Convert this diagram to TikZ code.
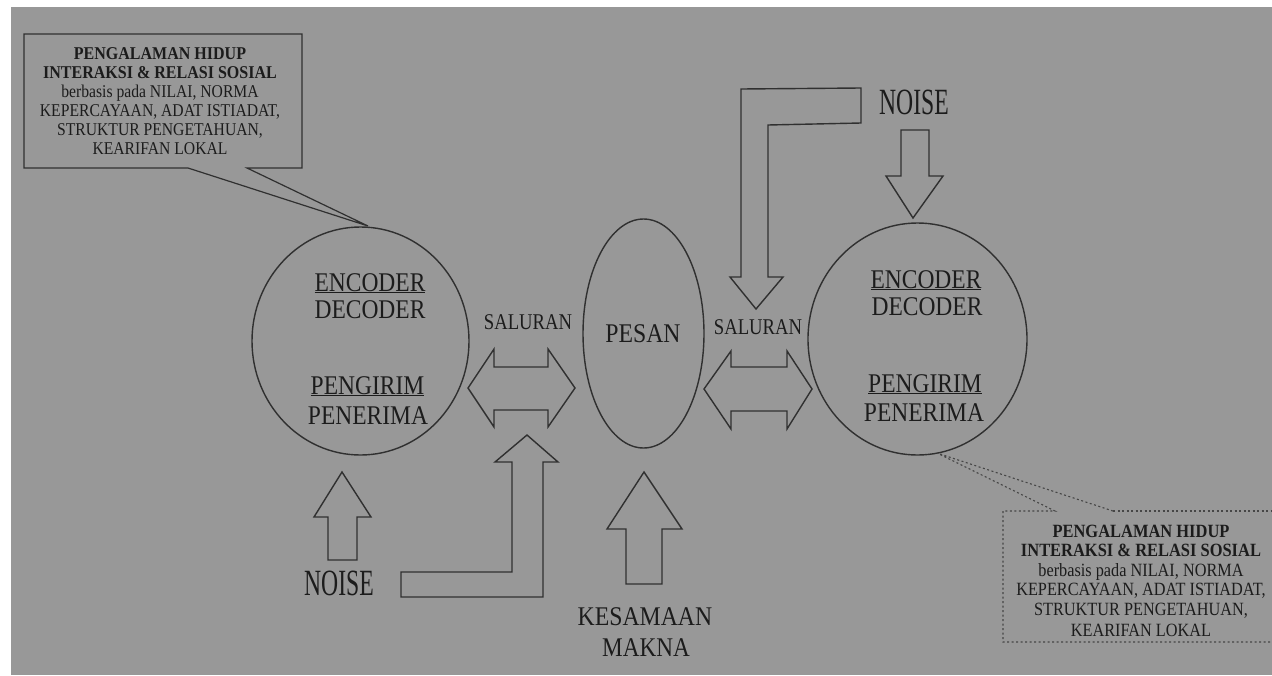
\documentclass[tikz,border=0pt]{standalone}
\usepackage{fontspec}
\setmainfont{Liberation Serif}
\usepackage{graphicx}
\usetikzlibrary{shapes.geometric}
\definecolor{paper}{RGB}{152,152,152}
\definecolor{ink}{RGB}{48,48,48}
\definecolor{txt}{RGB}{28,28,28}
\definecolor{dotink}{RGB}{70,70,70}
% horizontally condensed text
\newcommand{\hsqz}[2]{\scalebox{#1}[1]{#2}}

\begin{document}
\begin{tikzpicture}[x=1pt,y=-1pt,
  outline/.style={draw=ink, line width=1.4pt, line join=miter},
  dotline/.style={draw=dotink, line width=1.1pt, dash pattern=on 2pt off 2.5pt},
  lab/.style={inner sep=0pt, anchor=base, text=txt},
  big/.style={lab, font=\fontsize{27}{27}\selectfont},
  mid/.style={lab, font=\fontsize{22.5}{22.5}\selectfont},
  huge/.style={lab, font=\fontsize{37}{37}\selectfont},
  note/.style={lab, font=\fontsize{18}{18}\selectfont},
  noteR/.style={lab, font=\fontsize{18.7}{18.7}\selectfont},
  blob/.style={ellipse, outline, inner sep=0pt}]

\useasboundingbox (0,0) rectangle (1272,675);
\fill[white] (0,0) rectangle (1272,675);
\fill[paper] (11,7) rectangle (1272,675);

% ---- participants and message ----
\node[blob, minimum width=217pt, minimum height=228pt] (leftc) at (360.5,341) {};
\node[blob, minimum width=219pt, minimum height=232pt] (rightc) at (917.5,339) {};
\node[blob, minimum width=121pt, minimum height=229pt] (pesan) at (643.5,333.5) {};

\node[big] (lenc) at (370,291) {\hsqz{0.87}{\underline{ENCODER}}};
\node[big] (ldec) at (370,318) {\hsqz{0.87}{DECODER}};
\node[big] (lpeng) at (367.5,394) {\hsqz{0.87}{\underline{PENGIRIM}}};
\node[big] (lpen) at (368,424) {\hsqz{0.87}{PENERIMA}};

\node[big] (renc) at (926,288) {\hsqz{0.87}{\underline{ENCODER}}};
\node[big] (rdec) at (927,315) {\hsqz{0.87}{DECODER}};
\node[big] (rpeng) at (925,392) {\hsqz{0.87}{\underline{PENGIRIM}}};
\node[big] (rpen) at (924,421) {\hsqz{0.87}{PENERIMA}};

\node[big] (pesantxt) at (643,342) {\hsqz{0.88}{PESAN}};

% ---- channels ----
\node[mid] (salL) at (528,329.5) {\hsqz{0.83}{SALURAN}};
\node[mid] (salR) at (758,334.5) {\hsqz{0.83}{SALURAN}};

\draw[outline] (468,388) -- (494,349) -- (494,367) -- (548,367) -- (548,349)
  -- (575,388) -- (548,427) -- (548,410) -- (494,410) -- (494,427) -- cycle;
\draw[outline] (704,389) -- (731,351) -- (731,367) -- (787,367) -- (787,351)
  -- (812,389) -- (787,429) -- (787,411) -- (731,411) -- (731,429) -- cycle;

% ---- noise, top right ----
\node[huge] (noiseT) at (914,114.5) {\hsqz{0.64}{NOISE}};
\draw[outline] (861,88) -- (741,89) -- (741,277) -- (730,277) -- (756,309)
  -- (783,277) -- (768,277) -- (768,125) -- (861,123) -- cycle;
\draw[outline] (901,130) -- (929,130) -- (929,176) -- (943,176) -- (913,218)
  -- (886,176) -- (901,176) -- cycle;

% ---- noise, bottom left ----
\node[huge] (noiseB) at (339,595) {\hsqz{0.64}{NOISE}};
\draw[outline] (328,560) -- (328,517) -- (314,517) -- (342,472) -- (371,517)
  -- (357,517) -- (357,560) -- cycle;
\draw[outline] (401,572) -- (512,572) -- (512,462) -- (495,462) -- (527,435)
  -- (558,462) -- (543,462) -- (543,597) -- (401,597) -- cycle;

% ---- shared meaning ----
\draw[outline] (626,584) -- (626,529) -- (607,529) -- (644,472) -- (682,529)
  -- (662,529) -- (662,584) -- cycle;
\node[big] (kesamaan) at (645,625) {\hsqz{0.88}{KESAMAAN}};
\node[big] (makna) at (646,656) {\hsqz{0.86}{MAKNA}};

% ---- background callout, left (solid) ----
\coordinate (tipL) at (368,226);
\draw[outline, line width=1.2pt] (188,168) -- (24,168) -- (24,34) -- (302,34)
  -- (302,168) -- (247,168) -- (tipL) -- cycle;
\node[note] (cl1) at (160,59) {\hsqz{0.89}{\bfseries PENGALAMAN HIDUP}};
\node[note] (cl2) at (160,78) {\hsqz{0.89}{\bfseries INTERAKSI \& RELASI SOSIAL}};
\node[note] (cl3) at (160,97) {\hsqz{0.87}{berbasis pada NILAI, NORMA}};
\node[note] (cl4) at (160,116) {\hsqz{0.87}{KEPERCAYAAN, ADAT ISTIADAT,}};
\node[note] (cl5) at (160,135) {\hsqz{0.87}{STRUKTUR PENGETAHUAN,}};
\node[note] (cl6) at (160,154) {\hsqz{0.87}{KEARIFAN LOKAL}};

% ---- background callout, right (dotted) ----
\coordinate (tipR) at (937,453);
\draw[dotline] (1113,511) -- (tipR) -- (1055,511) -- (1003,511) -- (1003,642) -- (1274,642);
\draw[dotline] (1113,511) -- (1274,511);
\node[noteR] (cr1) at (1141,537) {\hsqz{0.88}{\bfseries PENGALAMAN HIDUP}};
\node[noteR] (cr2) at (1141,556.5) {\hsqz{0.88}{\bfseries INTERAKSI \& RELASI SOSIAL}};
\node[noteR] (cr3) at (1141,576) {\hsqz{0.87}{berbasis pada NILAI, NORMA}};
\node[noteR] (cr4) at (1141,595.5) {\hsqz{0.87}{KEPERCAYAAN, ADAT ISTIADAT,}};
\node[noteR] (cr5) at (1141,615) {\hsqz{0.87}{STRUKTUR PENGETAHUAN,}};
\node[noteR] (cr6) at (1141,636) {\hsqz{0.87}{KEARIFAN LOKAL}};

\end{tikzpicture}
\end{document}
